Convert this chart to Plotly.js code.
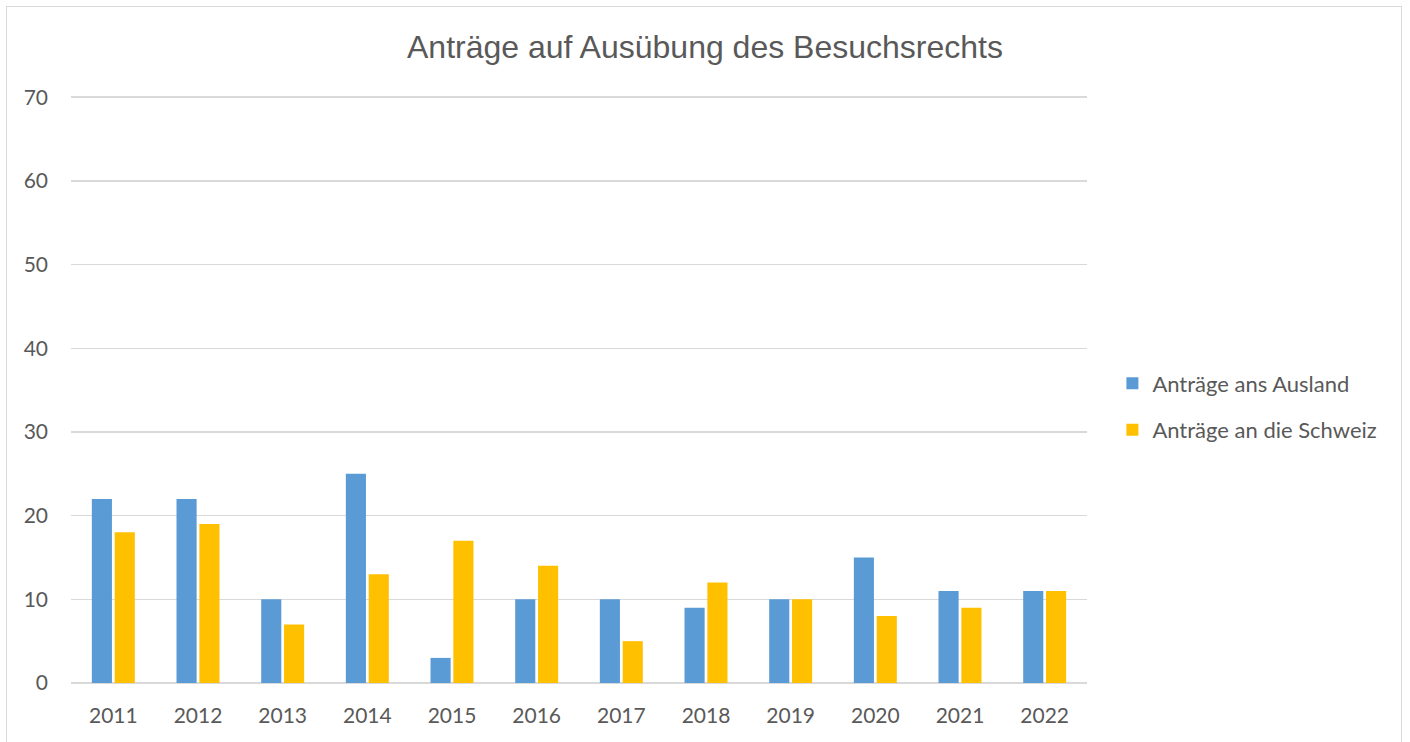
<!DOCTYPE html>
<html>
<head>
<meta charset="utf-8">
<script src="https://cdn.plot.ly/plotly-3.0.1.min.js"></script>
<style>
html,body{margin:0;padding:0;background:#fff;}
#chart{width:1410px;height:742px;}
#frame{position:absolute;left:6px;top:6px;width:1394px;height:760px;border:1px solid #d9d9d9;pointer-events:none;}
</style>
</head>
<body>
<div id="chart"></div>
<div id="frame"></div>
<script>
const years = ['2011','2012','2013','2014','2015','2016','2017','2018','2019','2020','2021','2022'];
const antraegeAusland = [22, 22, 10, 25, 3, 10, 10, 9, 10, 15, 11, 11];
const antraegeSchweiz = [18, 19, 7, 13, 17, 14, 5, 12, 10, 8, 9, 11];
const seriesNames = ['Anträge ans Ausland', 'Anträge an die Schweiz'];
const yTicks = [0, 10, 20, 30, 40, 50, 60, 70];

const traces = [
  {type:'bar', x:years, y:antraegeAusland, name:seriesNames[0], legendgroup:'a',
   marker:{color:'#5b9bd5', line:{width:0}}},
  {type:'bar', x:years, y:antraegeSchweiz, name:seriesNames[1], legendgroup:'b',
   marker:{color:'#ffc000', line:{width:0}}}
];

const layout = {
  width:1410, height:742,
  paper_bgcolor:'#fff', plot_bgcolor:'#fff',
  margin:{l:71, r:323, t:93, b:59},
  title:{text:'Anträge auf Ausübung des Besuchsrechts', x:0.5, xref:'container', xanchor:'center',
         y:45, yref:'container', yanchor:'middle',
         font:{family:'Liberation Sans, Arial, sans-serif', size:32, color:'#595959'}},
  barmode:'group', bargap:0.46, bargroupgap:0.12,
  font:{family:'Lato, Open Sans, sans-serif', size:21, color:'#595959'},
  xaxis:{type:'category', showgrid:false, showline:false, zeroline:false, ticks:'',
         ticklabelstandoff:18, tickfont:{size:21, color:'#595959'}},
  yaxis:{range:[0,70.5], tickvals:yTicks, showgrid:true, gridcolor:'#d9d9d9', gridwidth:1.5,
         zeroline:true, zerolinecolor:'#d9d9d9', zerolinewidth:1.5, showline:false, ticks:'',
         ticklabelstandoff:22, tickfont:{size:21, color:'#595959'}},
  legend:{x:1.025, xanchor:'left', y:0.468, yanchor:'middle', traceorder:'grouped', tracegroupgap:15, itemwidth:20,
          font:{size:22, color:'#595959'}, bgcolor:'rgba(0,0,0,0)'},
  showlegend:true
};

Plotly.newPlot('chart', traces, layout, {displayModeBar:false, staticPlot:true});
</script>
</body>
</html>
